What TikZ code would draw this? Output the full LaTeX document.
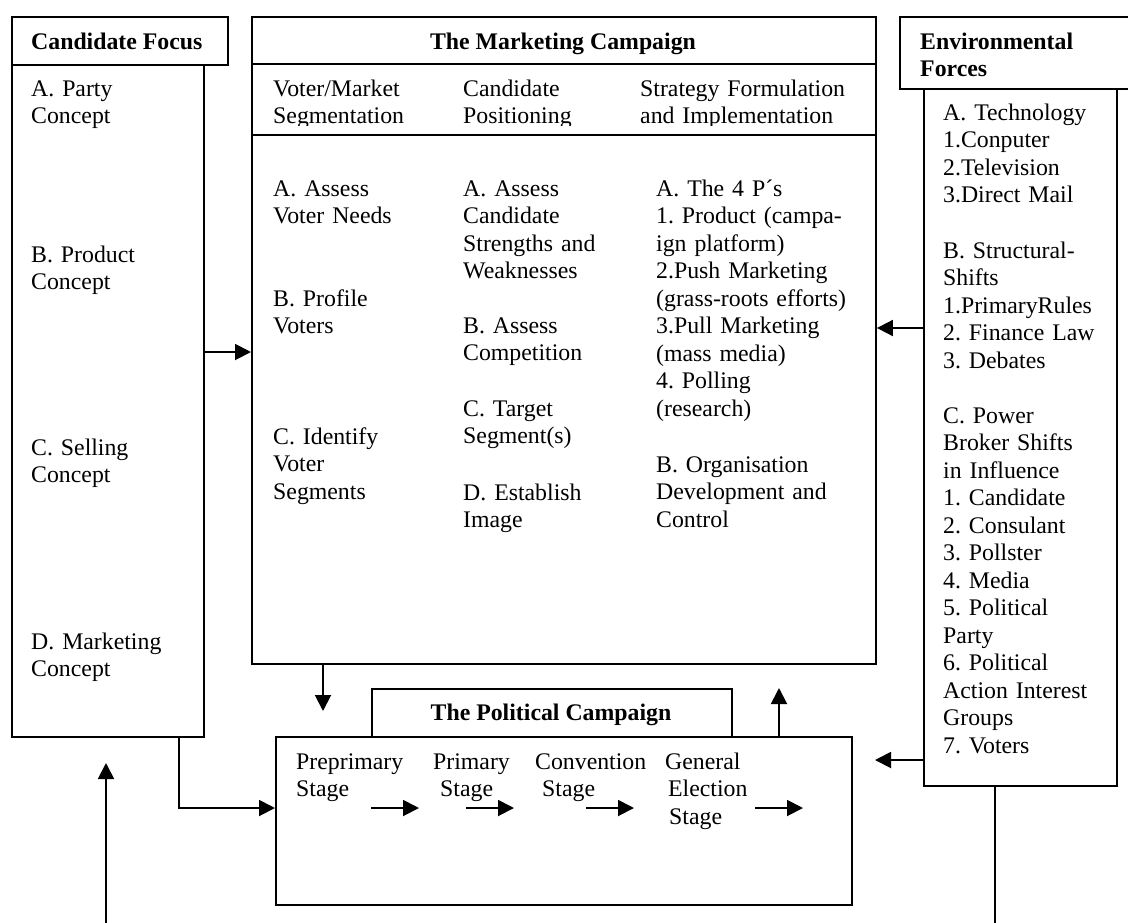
\documentclass[tikz,border=0pt]{standalone}
\usepackage{fontspec}
\setmainfont{Liberation Serif}
\usetikzlibrary{arrows.meta}
\begin{document}
\frenchspacing
\begin{tikzpicture}[x=1pt,y=-1pt,
  frame/.style={draw, line width=1.9pt, inner sep=0pt, anchor=north west},
  txt/.style={inner sep=0pt, anchor=base west, align=left, text width=240pt,
    font=\fontsize{23.8}{27.5}\selectfont},
  head/.style={inner sep=0pt, anchor=base, font=\fontsize{23.8}{27.5}\selectfont\bfseries},
  conn/.style={line width=1.9pt, -{Triangle[length=16pt,width=16pt]}},
  plain/.style={line width=1.9pt}]
\useasboundingbox (0,0) rectangle (1128,922);
\clip (0,0) rectangle (1128,922);

% --- Candidate Focus ---
\node[frame, minimum width=216pt, minimum height=48pt] (cfhead) at (11,16) {};
\node[frame, minimum width=192pt, minimum height=672pt] (cfbody) at (11,64) {};
\node[inner sep=0pt, anchor=base west, font=\fontsize{23.8}{27.5}\selectfont\bfseries] (cftitle) at (31,49) {Candidate Focus};
\node[txt] (cfa) at (31,96) {A. Party\\Concept};
\node[txt] (cfb) at (31,262) {B. Product\\Concept};
\node[txt] (cfc) at (31,455) {C. Selling\\Concept};
\node[txt] (cfd) at (31,649) {D. Marketing\\Concept};

% --- The Marketing Campaign ---
\node[frame, minimum width=624pt, minimum height=647pt] (mc) at (251,16) {};
\draw[plain] (mc.west |- 0,64) -- (mc.east |- 0,64);
\draw[plain] (mc.west |- 0,135) -- (mc.east |- 0,135);
\node[head] (mctitle) at (563,49) {The Marketing Campaign};
\begin{scope}
  \clip (251,64) rectangle (875,125.5);
  \node[txt] (seg) at (273,96) {Voter/Market\\Segmentation};
  \node[txt] (pos) at (463,96) {Candidate\\Positioning};
  \node[txt] (strat) at (640,96) {Strategy Formulation\\and Implementation};
\end{scope}
\node[txt] (s1a) at (273,196) {A. Assess\\Voter Needs};
\node[txt] (s1b) at (273,306) {B. Profile\\Voters};
\node[txt] (s1c) at (273,444) {C. Identify\\Voter\\Segments};
\node[txt] (s2a) at (463,196) {A. Assess\\Candidate\\Strengths and\\Weaknesses};
\node[txt] (s2b) at (463,333) {B. Assess\\Competition};
\node[txt] (s2c) at (463,416) {C. Target\\Segment(s)};
\node[txt] (s2d) at (463,500) {D. Establish\\Image};
\node[txt] (s3a) at (656,196) {A. The 4 P´s\\1. Product (campa-\\ign platform)\\2.Push Marketing\\(grass-roots efforts)\\3.Pull Marketing\\(mass media)\\4. Polling\\(research)};
\node[txt] (s3b) at (656,472) {B. Organisation\\Development and\\Control};

% --- Environmental Forces ---
\node[frame, minimum width=240pt, minimum height=72pt] (envhead) at (899,16) {};
\node[frame, minimum width=193pt, minimum height=697pt] (envbody) at (923,88) {};
\node[inner sep=0pt, anchor=base west, align=left, font=\fontsize{23.8}{27.5}\selectfont\bfseries, text width=200pt] (envtitle) at (920,49) {Environmental\\Forces};
\node[txt] (ea) at (943,120) {A. Technology\\1.Conputer\\2.Television\\3.Direct Mail};
\node[txt] (eb) at (943,258) {B. Structural-\\Shifts\\1.PrimaryRules\\2. Finance Law\\3. Debates};
\node[txt] (ec) at (943,423) {C. Power\\Broker Shifts\\in Influence\\1. Candidate\\2. Consulant\\3. Pollster\\4. Media\\5. Political\\Party\\6. Political\\Action Interest\\Groups\\7. Voters};

% --- The Political Campaign ---
\node[frame, minimum width=360pt, minimum height=48pt] (pchead) at (371,688) {};
\node[frame, minimum width=576pt, minimum height=168pt, fill=white] (pcbody) at (275,736) {};
\node[head] (pctitle) at (551,720) {The Political Campaign};
\node[txt] (st1) at (296,769) {Preprimary\\Stage};
\node[txt] (st2) at (433,769) {Primary\\\hspace*{7pt}Stage};
\node[txt] (st3) at (535,769) {Convention\\\hspace*{7pt}Stage};
\node[txt] (st4) at (665,769) {General\\\hspace*{3pt}Election\\\hspace*{4pt}Stage};

% --- connectors ---
\draw[conn] (cfbody.east |- 0,352) -- (mc.west |- 0,352);
\draw[conn] (envbody.west |- 0,328) -- (mc.east |- 0,328);
\coordinate (pcin) at (875,760);
\draw[conn] (envbody.west |- pcin) -- (pcin);
\coordinate (mcdown) at (323,711);
\draw[conn] (mc.south -| mcdown) -- (mcdown);
\coordinate (pcup) at (779,688);
\draw[conn] (pcbody.north -| pcup) -- (pcup);
\draw[conn] (cfbody.south -| 179,0) -- (179,808) -- (pcbody.west |- 0,808);
\coordinate (upfoot) at (106,925);
\coordinate (uptip) at (106,763);
\draw[conn] (upfoot) -- (uptip);
\coordinate (envfoot) at (995,925);
\draw[plain] (envbody.south -| envfoot) -- (envfoot);

% stage arrows
\coordinate (a1s) at (371,808); \coordinate (a1e) at (419,808);
\coordinate (a2s) at (466,808); \coordinate (a2e) at (514,808);
\coordinate (a3s) at (586,808); \coordinate (a3e) at (634,808);
\coordinate (a4s) at (755,808); \coordinate (a4e) at (803,808);
\draw[conn] (a1s) -- (a1e);
\draw[conn] (a2s) -- (a2e);
\draw[conn] (a3s) -- (a3e);
\draw[conn] (a4s) -- (a4e);
\end{tikzpicture}
\end{document}
